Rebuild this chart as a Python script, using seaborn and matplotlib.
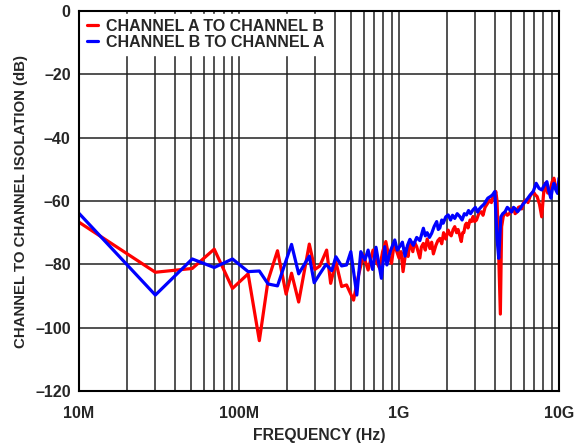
import numpy as np
import pandas as pd
import matplotlib
matplotlib.use('Agg')
import matplotlib.pyplot as plt
import seaborn as sns
from matplotlib.ticker import FixedLocator, LogLocator, NullFormatter

# Channel A -> B (red), frequency in MHz, isolation in dB
freq_ab = [10, 30, 51, 70, 91, 114, 134, 152, 174, 197, 213, 236, 275, 298, 320,
           353, 374, 403, 438, 470, 520, 556, 598, 641, 688, 720, 756, 790, 827,
           860, 898, 930, 962, 1000, 1030, 1060, 1110, 1140, 1170, 1220, 1250,
           1290, 1350, 1380, 1420, 1460, 1500, 1560, 1600, 1640, 1700, 1750, 1800,
           1850, 1900, 1960, 2030, 2080, 2120, 2180, 2230, 2290, 2340, 2400, 2450,
           2500, 2540, 2600, 2640, 2700, 2780, 2840, 2900, 2970, 3050, 3150, 3270,
           3350, 3450, 3550, 3690, 3780, 3850, 3950, 4030, 4100, 4170, 4300, 4380,
           4480, 4600, 4750, 4900, 5050, 5200, 5320, 5450, 5580, 5700, 5850, 6000,
           6200, 6400, 6600, 6900, 7100, 7300, 7550, 7800, 8000, 8200, 8500, 8800,
           9050, 9300, 9550, 9800, 10000]
iso_ab = [-66.7, -82.5, -81.3, -75.2, -87.6, -83.0, -104.1, -85.0, -75.7, -89.4,
          -82.8, -91.9, -73.6, -81.6, -80.5, -75.5, -86.0, -79.2, -87.0, -86.5,
          -91.3, -83.9, -77.0, -81.8, -75.5, -79.0, -81.2, -76.0, -72.8, -77.0,
          -79.7, -74.0, -75.5, -78.0, -76.0, -82.3, -75.0, -77.5, -72.8, -76.0,
          -73.0, -74.4, -78.0, -74.5, -73.4, -75.5, -72.0, -75.0, -73.0, -76.7,
          -74.0, -72.5, -71.8, -73.5, -70.0, -72.0, -69.2, -70.5, -71.0, -69.0,
          -68.1, -70.0, -69.0, -71.0, -72.8, -70.0, -70.0, -67.5, -67.0, -68.5,
          -66.0, -66.5, -64.9, -66.5, -66.0, -64.0, -63.4, -64.5, -62.0, -61.0,
          -59.7, -60.5, -59.0, -58.0, -57.0, -60.0, -71.3, -95.7, -68.1, -65.0,
          -63.4, -64.5, -64.0, -62.5, -62.3, -64.0, -63.5, -62.0, -61.8, -62.5,
          -60.5, -59.7, -60.5, -58.5, -57.0, -58.0, -58.6, -61.0, -65.0, -58.0,
          -54.4, -57.5, -56.5, -54.0, -52.8, -56.0, -55.5, -53.9]

# Channel B -> A (blue)
freq_ba = [10, 30, 51, 70, 91, 114, 134, 152, 174, 213, 236, 275, 295, 320, 350,
           380, 403, 438, 470, 500, 545, 577, 612, 641, 684, 718, 776, 814, 840,
           880, 941, 975, 1010, 1050, 1090, 1130, 1170, 1230, 1290, 1350, 1420,
           1460, 1500, 1550, 1600, 1660, 1720, 1760, 1800, 1850, 1890, 1960, 2030,
           2100, 2160, 2230, 2310, 2400, 2480, 2560, 2640, 2720, 2800, 2900, 3000,
           3100, 3180, 3270, 3400, 3590, 3750, 3850, 3970, 4100, 4200, 4330, 4450,
           4600, 4750, 4930, 5050, 5200, 5350, 5500, 5700, 5900, 6200, 6600, 6900,
           7200, 7500, 7800, 8100, 8400, 8650, 8900, 9100, 9300, 9550, 9800, 10000]
iso_ba = [-63.9, -89.7, -78.3, -81.0, -78.3, -82.3, -82.1, -86.2, -86.8, -73.7,
          -83.0, -77.4, -85.8, -83.0, -80.0, -82.0, -77.6, -80.5, -80.2, -76.0,
          -89.7, -76.0, -78.6, -75.5, -81.6, -74.6, -84.4, -74.4, -80.2, -76.0,
          -72.3, -75.5, -74.4, -73.0, -77.4, -74.0, -72.1, -74.0, -71.5, -72.5,
          -68.6, -71.0, -70.0, -71.5, -70.2, -68.0, -66.5, -69.0, -68.5, -66.0,
          -67.0, -65.0, -64.4, -66.0, -64.5, -65.5, -64.0, -64.9, -66.0, -64.0,
          -64.4, -63.0, -64.0, -62.8, -62.0, -63.5, -62.5, -61.8, -61.0, -59.1,
          -58.5, -58.0, -57.0, -71.8, -78.1, -65.0, -64.0, -63.4, -62.0, -62.8,
          -63.5, -62.0, -62.5, -63.4, -62.5, -61.3, -60.0, -58.1, -57.0, -54.4,
          -56.0, -56.5, -55.0, -53.9, -57.0, -59.1, -56.0, -54.4, -56.5, -57.6,
          -52.8]

label_ab = 'CHANNEL A TO CHANNEL B'
label_ba = 'CHANNEL B TO CHANNEL A'

df = pd.concat([
    pd.DataFrame({'freq': np.array(freq_ab) * 1e6, 'iso': iso_ab, 'path': label_ab}),
    pd.DataFrame({'freq': np.array(freq_ba) * 1e6, 'iso': iso_ba, 'path': label_ba}),
])

sns.set_style('white')
plt.rcParams['font.family'] = ['Liberation Sans', 'DejaVu Sans']
plt.rcParams['font.weight'] = 'bold'

fig = plt.figure(figsize=(5.87, 4.46), dpi=100)
ax = fig.add_axes([0.1346, 0.1233, 0.8177, 0.852])

sns.lineplot(data=df, x='freq', y='iso', hue='path', ax=ax, estimator=None, sort=False,
             palette={label_ab: '#ff0000', label_ba: '#0000ff'}, linewidth=2.3)

ax.set_xscale('log')
ax.set_xlim(1e7, 1e10)
ax.set_ylim(-120, 0)
ax.xaxis.set_major_locator(FixedLocator([1e7, 1e8, 1e9, 1e10]))
ax.xaxis.set_minor_locator(LogLocator(base=10, subs=np.arange(2, 10)))
ax.xaxis.set_minor_formatter(NullFormatter())
ax.set_xticklabels(['10M', '100M', '1G', '10G'])
ax.set_yticks(range(-120, 1, 20))
ax.set_yticklabels(['\u2013120', '\u2013100', '\u201380', '\u201360', '\u201340', '\u201320', '0'])
ax.grid(True, which='both', axis='x', color='#222222', linewidth=1.1)
ax.grid(True, which='major', axis='y', color='#222222', linewidth=1.1)
ax.tick_params(which='both', length=0, labelsize=11.5)
ax.tick_params(axis='x', pad=11)
ax.tick_params(axis='y', pad=6)
for s in ax.spines.values():
    s.set_color('black')
    s.set_linewidth(1.5)

ax.set_xlabel('FREQUENCY (Hz)', fontsize=11.3, fontweight='bold', labelpad=5)
ax.set_ylabel('CHANNEL TO CHANNEL ISOLATION (dB)', fontsize=10.8, fontweight='bold', labelpad=5)

leg = ax.legend(loc='upper left', frameon=True, fontsize=11.5, handlelength=0.7,
                borderaxespad=0.2, labelspacing=0.05, handletextpad=0.5, fancybox=False,
                borderpad=0.3)
leg.get_frame().set_facecolor('white')
leg.get_frame().set_edgecolor('white')
leg.get_frame().set_alpha(1)
for t in leg.get_texts():
    t.set_fontweight('bold')

fig.savefig('out.png', dpi=100)
